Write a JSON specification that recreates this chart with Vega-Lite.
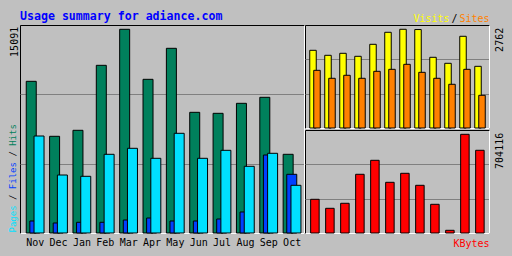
{
  "$schema": "https://vega.github.io/schema/vega-lite/v6.json",
  "background": "#C0C0C0",
  "padding": {"left": 7, "top": 10, "right": 7, "bottom": 8},
  "autosize": {"type": "pad"},
  "datasets": {
    "m": [
      {"month": "Nov", "hits": 11238, "files": 889, "pages": 7186, "visits": 2174, "sites": 1614, "kbytes": 240400},
      {"month": "Dec", "hits": 7164, "files": 741, "pages": 4297, "visits": 2034, "sites": 1391, "kbytes": 176200},
      {"month": "Jan", "hits": 7608, "files": 793, "pages": 4200, "visits": 2090, "sites": 1475, "kbytes": 211900},
      {"month": "Feb", "hits": 12423, "files": 793, "pages": 5830, "visits": 2006, "sites": 1391, "kbytes": 418800},
      {"month": "Mar", "hits": 15091, "files": 963, "pages": 6275, "visits": 2342, "sites": 1586, "kbytes": 518600},
      {"month": "Apr", "hits": 11386, "files": 1111, "pages": 5534, "visits": 2678, "sites": 1642, "kbytes": 361700},
      {"month": "May", "hits": 13683, "files": 889, "pages": 7386, "visits": 2762, "sites": 1782, "kbytes": 425900},
      {"month": "Jun", "hits": 8941, "files": 889, "pages": 5534, "visits": 2755, "sites": 1558, "kbytes": 340300},
      {"month": "Jul", "hits": 8867, "files": 1037, "pages": 6126, "visits": 1978, "sites": 1391, "kbytes": 204700},
      {"month": "Aug", "hits": 9608, "files": 1556, "pages": 4941, "visits": 1810, "sites": 1223, "kbytes": 19260},
      {"month": "Sep", "hits": 10053, "files": 5778, "pages": 5904, "visits": 2566, "sites": 1642, "kbytes": 704116},
      {"month": "Oct", "hits": 5830, "files": 4348, "pages": 3534, "visits": 1726, "sites": 915, "kbytes": 590000}
    ]
  },
  "spacing": 1,
  "bounds": "flush",
  "hconcat": [
    {
      "width": 284,
      "height": 208,
      "data": {"name": "m"},
      "title": {"text": "Usage summary for adiance.com", "anchor": "start", "frame": "group", "color": "#0000FF", "font": "DejaVu Sans Mono", "fontSize": 11.6, "fontWeight": "bold", "baseline": "alphabetic", "offset": -7},
      "resolve": {"axis": {"x": "independent", "y": "independent"}},
      "layer": [
        {
          "mark": {"type": "bar", "width": 10, "xOffset": -2.3, "color": "#00805C", "stroke": "#000000", "strokeWidth": 1},
          "encoding": {
            "x": {"field": "month", "type": "nominal", "sort": null, "scale": {"paddingInner": 0, "paddingOuter": 0.08},
              "axis": {"orient": "bottom", "labelAngle": 0, "labelPadding": 4.5, "labelOffset": 1.7, "labelOverlap": false, "labelFlush": false, "ticks": false, "tickSize": 0, "domainColor": "#FFFFFF", "grid": false,
                "title": "Pages", "titleColor": "#00E0FF", "titleFontSize": 9, "titleAngle": 270, "titleAlign": "left", "titleBaseline": "alphabetic", "titleX": -5, "titleY": -1}},
            "y": {"field": "hits", "type": "quantitative", "scale": {"domain": [0, 15410], "nice": false},
              "axis": {"orient": "left", "values": [5137, 10273, 15091], "format": "d", "labelExpr": "datum.value > 15000 ? datum.label : ''", "grid": true, "gridColor": "#808080", "gridOpacity": {"condition": {"test": "datum.value > 15000", "value": 0}, "value": 1}, "domain": false, "ticks": false, "tickSize": 0, "labelAngle": 270, "labelAlign": "right", "labelBaseline": "alphabetic", "labelPadding": 3, "labelOffset": -3,
                "title": "Hits", "titleColor": "#00805C", "titleFontSize": 9, "titleAngle": 270, "titleAlign": "left", "titleBaseline": "alphabetic", "titleX": -5, "titleY": 120.3}}
          }
        },
        {
          "mark": {"type": "bar", "width": 10, "xOffset": 1.3, "color": "#0040FF", "stroke": "#000000", "strokeWidth": 1},
          "encoding": {
            "x": {"field": "month", "type": "nominal", "sort": null, "scale": {"paddingInner": 0, "paddingOuter": 0.08},
              "axis": {"orient": "top", "labels": false, "ticks": false, "domain": false, "grid": false, "title": "Files", "titleColor": "#0040FF", "titleFontSize": 9, "titleAngle": 270, "titleAlign": "left", "titleBaseline": "alphabetic", "titleX": -5, "titleY": 163.7}},
            "y": {"field": "files", "type": "quantitative", "scale": {"domain": [0, 15410], "nice": false},
              "axis": {"orient": "right", "labels": false, "ticks": false, "grid": false, "domainColor": "#FFFFFF", "title": "/", "titleColor": "#000000", "titleFontSize": 9, "titleAngle": 270, "titleAlign": "left", "titleBaseline": "alphabetic", "titleX": -289, "titleY": 174.5}}
          }
        },
        {
          "mark": {"type": "bar", "width": 10, "xOffset": 5.5, "color": "#00E0FF", "stroke": "#000000", "strokeWidth": 1},
          "encoding": {
            "x": {"field": "month", "type": "nominal", "sort": null, "scale": {"paddingInner": 0, "paddingOuter": 0.08},
              "axis": {"orient": "top", "labels": false, "ticks": false, "domain": false, "grid": false, "title": "/", "titleColor": "#000000", "titleFontSize": 9, "titleAngle": 270, "titleAlign": "left", "titleBaseline": "alphabetic", "titleX": -5, "titleY": 131.1}},
            "y": {"field": "pages", "type": "quantitative", "scale": {"domain": [0, 15410], "nice": false}, "axis": null}
          }
        }
      ]
    },
    {
      "spacing": 2,
      "bounds": "flush",
      "vconcat": [
        {
          "width": 184,
          "height": 103,
          "data": {"name": "m"},
          "resolve": {"axis": {"x": "independent", "y": "independent"}},
          "layer": [
            {
              "mark": {"type": "bar", "width": 6.5, "xOffset": -1.5, "color": "#FFFF00", "stroke": "#000000", "strokeWidth": 1},
              "encoding": {
                "x": {"field": "month", "type": "nominal", "sort": null, "scale": {"paddingInner": 0, "paddingOuter": 0.133},
                  "axis": {"orient": "bottom", "labels": false, "ticks": false, "grid": false, "domainColor": "#FFFFFF", "title": "Visits", "titleColor": "#FFFF00", "titleFontSize": 10, "titleAngle": 0, "titleAlign": "right", "titleBaseline": "alphabetic", "titleX": 144, "titleY": -107}},
                "y": {"field": "visits", "type": "quantitative", "scale": {"domain": [0, 2882], "nice": false},
                  "axis": {"orient": "right", "values": [961, 1921, 2762], "format": "d", "labelExpr": "datum.value > 2700 ? datum.label : ''", "grid": true, "gridColor": "#808080", "gridOpacity": {"condition": {"test": "datum.value > 2700", "value": 0}, "value": 1}, "domainColor": "#FFFFFF", "ticks": false, "tickSize": 0, "labelAngle": 270, "labelAlign": "right", "labelBaseline": "top", "labelPadding": 5, "labelOffset": -2,
                    "title": "/", "titleColor": "#000000", "titleFontSize": 10, "titleAngle": 0, "titleAlign": "right", "titleBaseline": "alphabetic", "titleX": -32, "titleY": -4}}
              }
            },
            {
              "mark": {"type": "bar", "width": 6.5, "xOffset": 2.5, "color": "#FF8000", "stroke": "#000000", "strokeWidth": 1},
              "encoding": {
                "x": {"field": "month", "type": "nominal", "sort": null, "scale": {"paddingInner": 0, "paddingOuter": 0.133},
                  "axis": {"orient": "top", "labels": false, "ticks": false, "domain": false, "grid": false, "title": "Sites", "titleColor": "#FF8000", "titleFontSize": 10, "titleAngle": 0, "titleAlign": "right", "titleBaseline": "alphabetic", "titleX": 184, "titleY": -4}},
                "y": {"field": "sites", "type": "quantitative", "scale": {"domain": [0, 2882], "nice": false}, "axis": null}
              }
            }
          ]
        },
        {
          "width": 184,
          "height": 103,
          "data": {"name": "m"},
          "mark": {"type": "bar", "width": 8.5, "xOffset": 0.4, "color": "#FF0000", "stroke": "#000000", "strokeWidth": 1},
          "encoding": {
            "x": {"field": "month", "type": "nominal", "sort": null, "scale": {"paddingInner": 0, "paddingOuter": 0.133},
              "axis": {"orient": "bottom", "labels": false, "ticks": false, "grid": false, "domainColor": "#FFFFFF", "title": "KBytes", "titleColor": "#FF0000", "titleFontSize": 10, "titleAngle": 0, "titleAlign": "right", "titleBaseline": "alphabetic", "titleX": 184, "titleY": 13}},
            "y": {"field": "kbytes", "type": "quantitative", "scale": {"domain": [0, 734790], "nice": false},
              "axis": {"orient": "right", "values": [244930, 489860, 704116], "format": "d", "labelExpr": "datum.value > 700000 ? datum.label : ''", "grid": true, "gridColor": "#808080", "gridOpacity": {"condition": {"test": "datum.value > 700000", "value": 0}, "value": 1}, "domainColor": "#FFFFFF", "ticks": false, "tickSize": 0, "labelAngle": 270, "labelAlign": "right", "labelBaseline": "top", "labelPadding": 5, "labelOffset": -2, "title": null}}
          }
        }
      ]
    }
  ],
  "config": {
    "view": {"stroke": "#000000", "strokeWidth": 1, "fill": "#C0C0C0"},
    "axis": {"labelFont": "DejaVu Sans Mono", "labelFontSize": 10, "labelColor": "#000000", "titleFont": "DejaVu Sans Mono", "titleFontWeight": "normal"}
  }
}
